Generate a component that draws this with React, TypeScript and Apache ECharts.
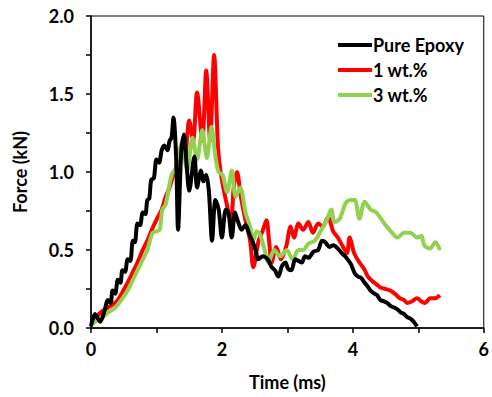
import React, { useEffect, useRef } from "react";
import * as echarts from "echarts";

const seriesNames = ["Pure Epoxy", "1 wt.%", "3 wt.%"];
const xTicks = [0, 2, 4, 6];
const yTicks = [0.0, 0.5, 1.0, 1.5, 2.0];

const pureEpoxy: [number, number][] = [
  [0, 0.01], [0.06, 0.09], [0.14, 0.04], [0.2, 0.1], [0.26, 0.18], [0.3, 0.16], [0.33, 0.24], [0.37, 0.22],
  [0.41, 0.31], [0.45, 0.29], [0.48, 0.37], [0.52, 0.36], [0.56, 0.44], [0.6, 0.43], [0.64, 0.56], [0.67, 0.55],
  [0.71, 0.67], [0.75, 0.66], [0.79, 0.74], [0.83, 0.73], [0.86, 0.82], [0.89, 0.83], [0.92, 0.95], [0.96, 0.96],
  [1.0, 1.08], [1.04, 1.06], [1.08, 1.14], [1.12, 1.17], [1.17, 1.14], [1.2, 1.2], [1.23, 1.22], [1.26, 1.35],
  [1.3, 1.1], [1.33, 0.63], [1.38, 1.14], [1.42, 1.24], [1.46, 1.05], [1.5, 0.88], [1.58, 1.1], [1.62, 0.9],
  [1.68, 1.01], [1.72, 0.94], [1.76, 0.98], [1.8, 0.88], [1.85, 0.56], [1.9, 0.82], [1.95, 0.76], [2.0, 0.58],
  [2.06, 0.76], [2.1, 0.74], [2.15, 0.58], [2.2, 0.74], [2.24, 0.69], [2.3, 0.63], [2.36, 0.66], [2.42, 0.6],
  [2.5, 0.52], [2.56, 0.44], [2.62, 0.46], [2.7, 0.44], [2.76, 0.39], [2.81, 0.37], [2.86, 0.33], [2.92, 0.4],
  [2.97, 0.42], [3.01, 0.38], [3.06, 0.37], [3.12, 0.44], [3.17, 0.43], [3.22, 0.42], [3.27, 0.46], [3.32, 0.45],
  [3.4, 0.49], [3.47, 0.5], [3.53, 0.56], [3.58, 0.55], [3.64, 0.52], [3.7, 0.53], [3.77, 0.51], [3.83, 0.48],
  [3.88, 0.46], [3.92, 0.44], [3.97, 0.41], [4.03, 0.35], [4.08, 0.33], [4.13, 0.32], [4.18, 0.29], [4.22, 0.27],
  [4.27, 0.24], [4.33, 0.22], [4.37, 0.21], [4.42, 0.18], [4.48, 0.17], [4.53, 0.16], [4.58, 0.14], [4.64, 0.13],
  [4.68, 0.12], [4.73, 0.1], [4.78, 0.09], [4.83, 0.07], [4.88, 0.06], [4.93, 0.04], [4.98, 0.01],
];

const wt1: [number, number][] = [
  [0, 0.03], [0.08, 0.07], [0.15, 0.1], [0.25, 0.13], [0.33, 0.15], [0.41, 0.18], [0.48, 0.23], [0.56, 0.29],
  [0.63, 0.35], [0.71, 0.42], [0.78, 0.49], [0.86, 0.56], [0.94, 0.64], [1.02, 0.71], [1.08, 0.76], [1.14, 0.84],
  [1.2, 0.9], [1.25, 0.97], [1.3, 1.03], [1.34, 1.08], [1.38, 1.16], [1.43, 1.09], [1.5, 1.33], [1.56, 1.2],
  [1.62, 1.51], [1.7, 1.2], [1.76, 1.65], [1.82, 1.2], [1.88, 1.75], [1.94, 1.16], [1.98, 1.0], [2.06, 0.82],
  [2.14, 0.69], [2.18, 0.9], [2.23, 1.0], [2.29, 0.84], [2.36, 0.69], [2.43, 0.56], [2.48, 0.39], [2.56, 0.56],
  [2.62, 0.62], [2.68, 0.69], [2.72, 0.56], [2.76, 0.42], [2.83, 0.52], [2.9, 0.44], [2.98, 0.52], [3.05, 0.65],
  [3.1, 0.58], [3.17, 0.67], [3.24, 0.63], [3.32, 0.68], [3.39, 0.61], [3.47, 0.67], [3.54, 0.65], [3.62, 0.71],
  [3.7, 0.62], [3.77, 0.58], [3.85, 0.52], [3.91, 0.48], [3.95, 0.58], [4.02, 0.48], [4.1, 0.42], [4.17, 0.38],
  [4.23, 0.33], [4.3, 0.3], [4.36, 0.28], [4.42, 0.26], [4.5, 0.25], [4.57, 0.24], [4.64, 0.22], [4.72, 0.19],
  [4.78, 0.18], [4.83, 0.16], [4.9, 0.17], [4.98, 0.19], [5.05, 0.17], [5.1, 0.16], [5.18, 0.19], [5.25, 0.19],
  [5.33, 0.21],
];

const wt3: [number, number][] = [
  [0, 0.02], [0.1, 0.05], [0.18, 0.07], [0.26, 0.1], [0.34, 0.12], [0.41, 0.15], [0.48, 0.19], [0.56, 0.24],
  [0.63, 0.3], [0.71, 0.37], [0.78, 0.43], [0.86, 0.5], [0.94, 0.61], [1.0, 0.62], [1.05, 0.63], [1.09, 0.76],
  [1.14, 0.79], [1.19, 0.9], [1.24, 0.99], [1.31, 1.03], [1.39, 1.19], [1.47, 1.01], [1.55, 1.22], [1.62, 1.08],
  [1.7, 1.27], [1.77, 1.09], [1.84, 1.29], [1.9, 1.1], [1.95, 1.0], [2.01, 0.98], [2.08, 0.87], [2.15, 1.01],
  [2.21, 0.84], [2.28, 0.9], [2.36, 0.74], [2.43, 0.65], [2.48, 0.56], [2.53, 0.62], [2.58, 0.6], [2.64, 0.52],
  [2.71, 0.42], [2.8, 0.5], [2.89, 0.46], [2.99, 0.5], [3.08, 0.44], [3.17, 0.5], [3.24, 0.5], [3.32, 0.54],
  [3.42, 0.56], [3.52, 0.63], [3.6, 0.69], [3.67, 0.76], [3.72, 0.68], [3.8, 0.7], [3.89, 0.8], [3.97, 0.82],
  [4.03, 0.82], [4.1, 0.7], [4.18, 0.81], [4.27, 0.76], [4.36, 0.74], [4.48, 0.67], [4.58, 0.62], [4.68, 0.58],
  [4.78, 0.61], [4.88, 0.61], [4.98, 0.58], [5.05, 0.59], [5.09, 0.53], [5.18, 0.51], [5.26, 0.55], [5.33, 0.5],
];

const FONT = "Lato";
const FS = 18;

export default function App() {
  const ref = useRef<HTMLDivElement>(null);
  useEffect(() => {
    if (!ref.current) return;
    const chart = echarts.init(ref.current, null, { renderer: "svg" });
    const colors = ["#000000", "#ff0000", "#92d050"];
    const datasets = [pureEpoxy, wt1, wt3];
    chart.setOption({
      animation: false,
      backgroundColor: "#ffffff",
      textStyle: { fontFamily: FONT },
      grid: {
        left: 91, right: 5, top: 16, bottom: 69,
        show: true, borderColor: "#000", borderWidth: 1, backgroundColor: "transparent",
      },
      legend: {
        show: true,
        orient: "vertical",
        left: 333,
        top: 31,
        itemWidth: 34,
        itemHeight: 4,
        itemGap: 7,
        icon: "rect",
        data: seriesNames,
        textStyle: { fontFamily: FONT, fontWeight: "bold", fontSize: FS, color: "#000", padding: [0, 0, 0, -4] },
      },
      xAxis: {
        type: "value",
        min: 0, max: 6, interval: 1,
        name: "Time (ms)",
        nameLocation: "middle",
        nameGap: 45,
        nameTextStyle: { fontFamily: FONT, fontWeight: "bold", fontSize: FS, color: "#000" },
        axisLine: { lineStyle: { color: "#000", width: 1.5 } },
        axisTick: { show: true, length: 5, inside: false, lineStyle: { color: "#000", width: 1.5 } },
        axisLabel: {
          fontFamily: FONT, fontWeight: "bold", fontSize: FS, color: "#000", margin: 12,
          formatter: (v: number) => (xTicks.includes(v) ? String(v) : ""),
        },
        splitLine: { show: false },
      },
      yAxis: {
        type: "value",
        min: 0, max: 2, interval: 0.25,
        name: "Force (kN)",
        nameLocation: "middle",
        nameGap: 62,
        nameTextStyle: { fontFamily: FONT, fontWeight: "bold", fontSize: FS, color: "#000" },
        axisLine: { show: true, lineStyle: { color: "#000", width: 1.5 } },
        axisTick: { show: true, length: 5, inside: false, lineStyle: { color: "#000", width: 1.5 } },
        axisLabel: {
          fontFamily: FONT, fontWeight: "bold", fontSize: FS, color: "#000", margin: 17,
          formatter: (v: number) => {
            const m = yTicks.find((t) => Math.abs(t - v) < 1e-6);
            return m !== undefined ? m.toFixed(1) : "";
          },
        },
        splitLine: { show: false },
      },
      series: seriesNames.map((n, i) => ({
        name: n,
        type: "line",
        data: datasets[i],
        showSymbol: false,
        smooth: 0.3,
        z: i === 0 ? 4 : i === 1 ? 2 : 3,
        lineStyle: { color: colors[i], width: 4 },
        itemStyle: { color: colors[i] },
      })),
    });
    return () => chart.dispose();
  }, []);
  return <div ref={ref} style={{ position: "fixed", left: 0, top: 0, width: 492, height: 397 }} />;
}
